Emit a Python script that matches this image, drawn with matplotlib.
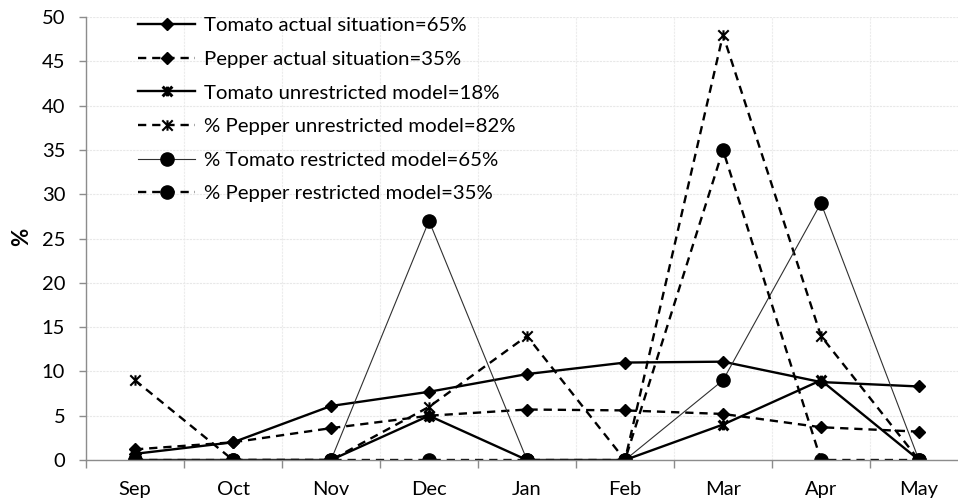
import matplotlib
matplotlib.use("Agg")
import matplotlib.pyplot as plt
from matplotlib.path import Path
import numpy as np

months = ["Sep", "Oct", "Nov", "Dec", "Jan", "Feb", "Mar", "Apr", "May"]
tomato_actual = [0.7, 2.0, 6.1, 7.7, 9.7, 11.0, 11.1, 8.8, 8.3]
pepper_actual = [1.2, 2.0, 3.6, 5.0, 5.7, 5.6, 5.2, 3.7, 3.2]
tomato_unrestricted = [0, 0, 0, 5.0, 0, 0, 4.0, 9.0, 0]
pepper_unrestricted = [9.0, 0, 0, 6.0, 14.0, 0, 48.0, 14.0, 0]
tomato_restricted = [0, 0, 0, 27.0, 0, 0, 9.0, 29.0, 0]
pepper_restricted = [0, 0, 0, 0, 0, 0, 35.0, 0, 0]

labels = ["Tomato actual situation=65%",
          "Pepper actual situation=35%",
          "Tomato unrestricted model=18%",
          "% Pepper unrestricted model=82%",
          "% Tomato restricted model=65%",
          "% Pepper restricted model=35%"]

plt.rcParams['font.family'] = ['Lato', 'DejaVu Sans']

star = Path([(0, -1), (0, 1), (-1, -1), (1, 1), (-1, 1), (1, -1)],
            [Path.MOVETO, Path.LINETO, Path.MOVETO, Path.LINETO, Path.MOVETO, Path.LINETO])

fig = plt.figure(figsize=(9.58, 5.01), dpi=100)
ax = fig.add_axes([0.0898, 0.0818, 0.9206, 0.8842])
x = np.arange(len(months))
dash = (0, (3.5, 2.5))

ax.plot(x, tomato_actual, color='black', lw=1.7, ls='-', marker='D', ms=6.5, label=labels[0])
ax.plot(x, pepper_actual, color='black', lw=1.7, ls=dash, marker='D', ms=6.5, label=labels[1])
ax.plot(x, tomato_unrestricted, color='black', lw=1.7, ls='-', marker=star, ms=7,
        mew=2.2, label=labels[2])
ax.plot(x, pepper_unrestricted, color='black', lw=1.7, ls=dash, marker=star, ms=7.5,
        mew=1.5, label=labels[3])
ax.plot(x, tomato_restricted, color='#303030', lw=0.8, ls='-', marker='o', ms=9.5,
        mfc='black', mec='black', label=labels[4])
ax.plot(x, pepper_restricted, color='black', lw=1.7, ls=dash, marker='o', ms=9.5, label=labels[5])

ax.set_xlim(-0.5, len(months) - 0.5)
ax.set_ylim(0, 50)
ax.set_yticks(np.arange(0, 51, 5))
ax.set_xticks(x)
ax.set_xticklabels(months)
ax.set_xticks(np.arange(-0.5, len(months), 1), minor=True)
ax.tick_params(axis='x', which='major', length=0, pad=15, labelsize=14.5)
ax.tick_params(axis='x', which='minor', length=6, width=1, color='#8c8c8c', direction='out')
ax.tick_params(axis='y', length=5, width=1, color='#8c8c8c', pad=10, labelsize=14.5)
for s in ['top', 'right']:
    ax.spines[s].set_visible(False)
for s in ['left', 'bottom']:
    ax.spines[s].set_color('#8c8c8c')
    ax.spines[s].set_linewidth(1)
ax.grid(True, axis='y', which='major', color='#e8e8e8', lw=0.8, ls=(0, (2, 1)))
ax.grid(True, axis='x', which='minor', color='#ececec', lw=0.8, ls=(0, (2, 1)))
ax.set_axisbelow(True)

fig.text(0.023, 0.527, "%", rotation=90, fontsize=16, fontweight='bold', va='center', ha='center')

leg = ax.legend(loc='upper left', bbox_to_anchor=(138 / 958, 1 - 17 / 501),
                bbox_transform=fig.transFigure, frameon=False, fontsize=14.7,
                handlelength=2.8, numpoints=1, labelspacing=0.8, handletextpad=0.45,
                borderpad=0, borderaxespad=0)

fig.savefig("out.png", dpi=100)
